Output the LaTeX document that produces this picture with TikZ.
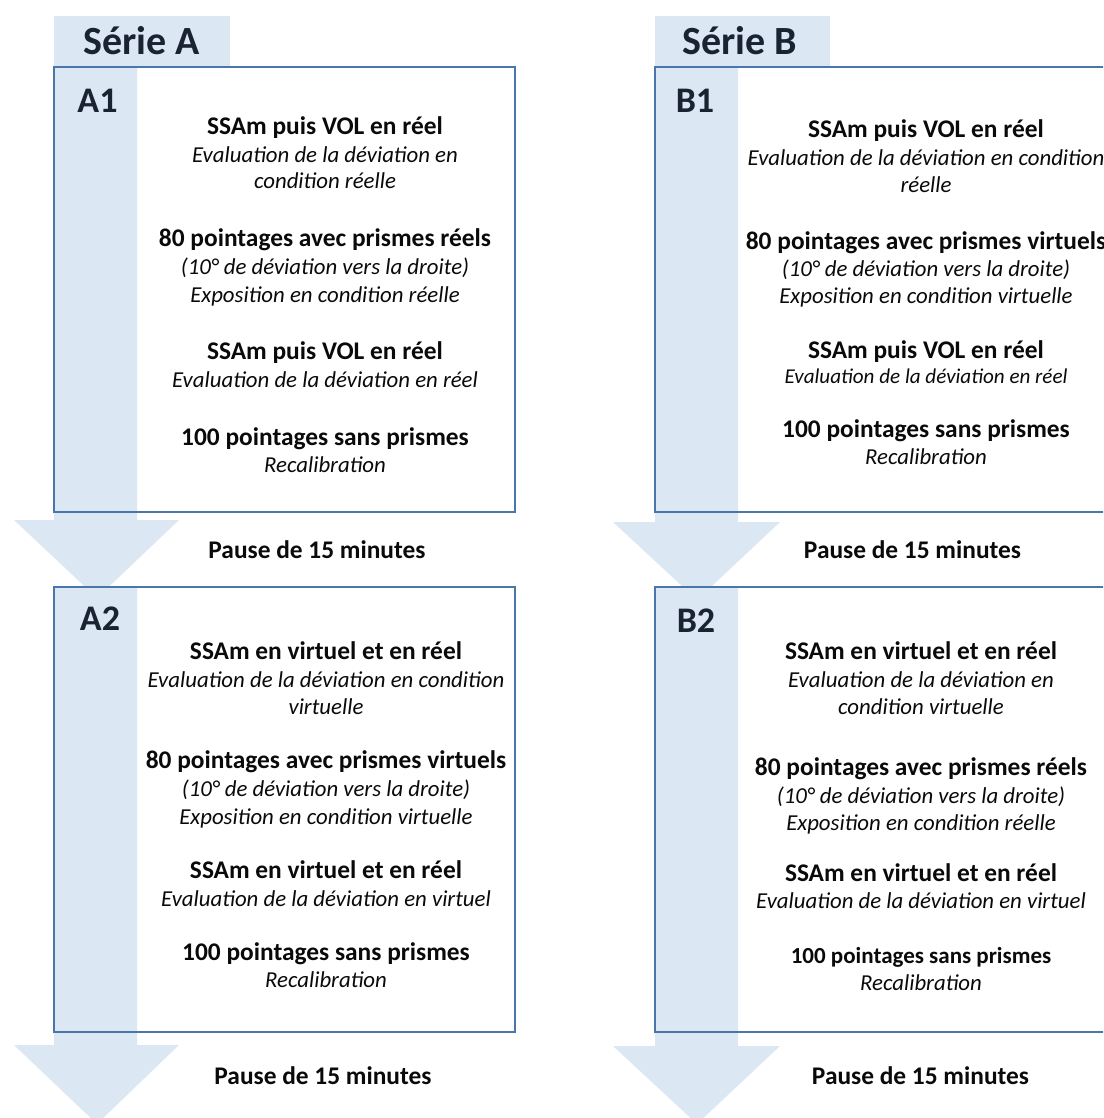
\documentclass[tikz,border=0pt]{standalone}
\usepackage{fontspec}
\setmainfont{Carlito}
\definecolor{lb}{HTML}{DCE7F4}
\definecolor{bd}{HTML}{4A76A8}
\definecolor{hd}{HTML}{1A2331}
\definecolor{tx}{HTML}{0A0A0A}
\begin{document}
\begin{tikzpicture}[x=1pt,y=-1pt,
 bl/.style={font=\fontsize{25.4}{30}\selectfont\bfseries, anchor=base, inner sep=0pt, text=tx},
 blsm/.style={font=\fontsize{23}{28}\selectfont\bfseries, anchor=base, inner sep=0pt, text=tx},
 it/.style={font=\fontsize{22.8}{27}\selectfont\itshape, anchor=base, inner sep=0pt, text=tx},
 itsm/.style={font=\fontsize{21.1}{25}\selectfont\itshape, anchor=base, inner sep=0pt, text=tx},
 hdr/.style={font=\fontsize{40}{48}\selectfont\bfseries, anchor=base, inner sep=0pt, text=hd},
 lab/.style={font=\fontsize{36}{42}\selectfont\bfseries, anchor=base, inner sep=0pt, text=hd},
 boxline/.style={draw=bd, line width=2.2pt},
 bandfill/.style={fill=lb}]
\clip (0,0) rectangle (1103,1118);
\fill[white] (0,0) rectangle (1103,1118);
% header tabs
\fill[bandfill] (54,16) rectangle (230,67);
\fill[bandfill] (655,16) rectangle (830,67);
% big arrows, series A
\fill[bandfill] (54,66) -- (137,66) -- (137,520) -- (179,520) -- (97,598) -- (14,520) -- (54,520) -- cycle;
\fill[bandfill] (54,587) -- (137,587) -- (137,1045) -- (179,1045) -- (97,1124) -- (14,1045) -- (54,1045) -- cycle;
% big arrows, series B
\fill[bandfill] (655,66) -- (738,66) -- (738,522) -- (780,522) -- (697,600) -- (613,522) -- (655,522) -- cycle;
\fill[bandfill] (655,587) -- (738,587) -- (738,1046) -- (780,1046) -- (697,1124) -- (613,1046) -- (655,1046) -- cycle;
% boxes
\draw[boxline] (54,67) rectangle (515,512);
\draw[boxline] (54,587) rectangle (515,1032);
\draw[boxline] (655,67) rectangle (1115,512);
\draw[boxline] (655,587) rectangle (1115,1032);

% headers and labels
\node[hdr] (serA) at (141.5,55) {Série A};
\node[hdr] (serB) at (740,55) {Série B};
\node[lab] (labA1) at (97.5,113) {A1};
\node[lab] (labA2) at (100,630) {A2};
\node[lab] (labB1) at (695,113) {B1};
\node[lab] (labB2) at (696,632) {B2};

% A1
\node[bl] (a1a) at (325,135) {SSAm puis VOL en réel};
\node[it] (a1b) at (325,163) {Evaluation de la déviation en};
\node[it] (a1c) at (325,189) {condition réelle};
\node[bl] (a1d) at (325,246) {80 pointages avec prismes réels};
\node[it] (a1e) at (325,274) {(10° de déviation vers la droite)};
\node[it] (a1f) at (325,302) {Exposition en condition réelle};
\node[bl] (a1g) at (325,359) {SSAm puis VOL en réel};
\node[it] (a1h) at (325,387) {Evaluation de la déviation en réel};
\node[bl] (a1i) at (325,445) {100 pointages sans prismes};
\node[it] (a1j) at (325,472) {Recalibration};
\node[bl] (pA1) at (317,558) {Pause de 15 minutes};

% A2
\node[bl] (a2a) at (326,659) {SSAm en virtuel et en réel};
\node[it] (a2b) at (326,687) {Evaluation de la déviation en condition};
\node[it] (a2c) at (326,714) {virtuelle};
\node[bl] (a2d) at (326,768) {80 pointages avec prismes virtuels};
\node[it] (a2e) at (326,796) {(10° de déviation vers la droite)};
\node[it] (a2f) at (326,824) {Exposition en condition virtuelle};
\node[bl] (a2g) at (326,878) {SSAm en virtuel et en réel};
\node[it] (a2h) at (326,906) {Evaluation de la déviation en virtuel};
\node[bl] (a2i) at (326,960) {100 pointages sans prismes};
\node[it] (a2j) at (326,987) {Recalibration};
\node[bl] (pA2) at (323,1084) {Pause de 15 minutes};

% B1
\node[bl] (b1a) at (926,138) {SSAm puis VOL en réel};
\node[it] (b1b) at (926,166) {Evaluation de la déviation en condition};
\node[it] (b1c) at (926,193) {réelle};
\node[bl] (b1d) at (926,249) {80 pointages avec prismes virtuels};
\node[it] (b1e) at (926,276) {(10° de déviation vers la droite)};
\node[it] (b1f) at (926,303) {Exposition en condition virtuelle};
\node[bl] (b1g) at (926,358) {SSAm puis VOL en réel};
\node[itsm] (b1h) at (926,383) {Evaluation de la déviation en réel};
\node[bl] (b1i) at (926,437) {100 pointages sans prismes};
\node[it] (b1j) at (926,464) {Recalibration};
\node[bl] (pB1) at (912.5,558) {Pause de 15 minutes};

% B2
\node[bl] (b2a) at (921,659) {SSAm en virtuel et en réel};
\node[it] (b2b) at (921,687) {Evaluation de la déviation en};
\node[it] (b2c) at (921,714) {condition virtuelle};
\node[bl] (b2d) at (921,775) {80 pointages avec prismes réels};
\node[it] (b2e) at (921,803) {(10° de déviation vers la droite)};
\node[it] (b2f) at (921,830) {Exposition en condition réelle};
\node[bl] (b2g) at (921,881) {SSAm en virtuel et en réel};
\node[it] (b2h) at (921,908) {Evaluation de la déviation en virtuel};
\node[blsm] (b2i) at (921,963) {100 pointages sans prismes};
\node[it] (b2j) at (921,990) {Recalibration};
\node[bl] (pB2) at (920.5,1084) {Pause de 15 minutes};
\end{tikzpicture}
\end{document}
